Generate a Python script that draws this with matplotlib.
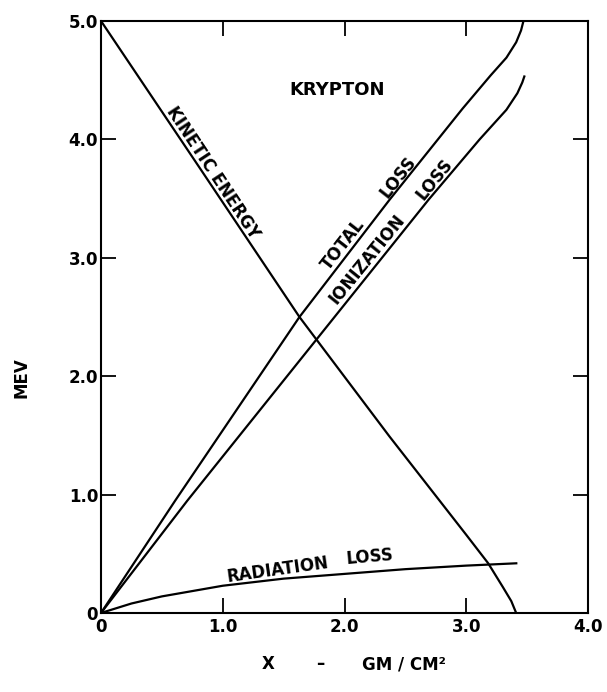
import matplotlib
matplotlib.use('Agg')
import matplotlib.pyplot as plt

# Data (x in gm/cm^2, energies in MeV)
###############################################################################
ke_x = [0.0, 0.81, 1.63, 2.37, 3.00, 3.18, 3.30, 3.37, 3.41]
ke_y = [5.0, 3.76, 2.50, 1.49, 0.66, 0.42, 0.22, 0.10, 0.0]

total_x = [0.0, 0.61, 1.63, 2.37, 2.97, 3.20, 3.33, 3.41, 3.45, 3.47]
total_y = [0.0, 0.95, 2.50, 3.49, 4.26, 4.54, 4.69, 4.82, 4.92, 5.0]

ion_x = [0.0, 0.71, 1.77, 2.69, 3.11, 3.33, 3.42, 3.46, 3.48]
ion_y = [0.0, 0.95, 2.31, 3.49, 4.00, 4.25, 4.39, 4.48, 4.54]

rad_x = [0.0, 0.25, 0.5, 1.0, 1.5, 2.0, 2.5, 3.0, 3.42]
rad_y = [0.0, 0.08, 0.14, 0.23, 0.29, 0.33, 0.37, 0.40, 0.42]

x_ticks = [0, 1, 2, 3, 4]
x_labels = ['0', '1.0', '2.0', '3.0', '4.0']
y_ticks = [0, 1, 2, 3, 4, 5]
y_labels = ['0', '1.0', '2.0', '3.0', '4.0', '5.0']

# Figure
###############################################################################
plt.rcParams['font.family'] = ['DejaVu Sans']
plt.rcParams['font.weight'] = 'bold'

fig = plt.figure(figsize=(6.07, 6.92), dpi=100)
ax = fig.add_axes([0.1664, 0.1142, 0.8023, 0.8555])

lw = 1.6
for xs, ys in [(ke_x, ke_y), (total_x, total_y), (ion_x, ion_y), (rad_x, rad_y)]:
    ax.plot(xs, ys, color='black', lw=lw, solid_capstyle='butt',
            solid_joinstyle='round')

ax.set_xlim(0, 4)
ax.set_ylim(0, 5)
ax.set_xticks(x_ticks)
ax.set_xticklabels(x_labels)
ax.set_yticks(y_ticks)
ax.set_yticklabels(y_labels)
ax.tick_params(direction='in', length=11, width=1.3, top=True, right=True,
               labelsize=12, colors='black')
ax.tick_params(axis='x', pad=3.5)
ax.tick_params(axis='y', pad=2)
for lab in ax.get_xticklabels() + ax.get_yticklabels():
    lab.set_fontweight('bold')
for sp in ax.spines.values():
    sp.set_linewidth(1.5)

# curve labels
txt = dict(ha='center', va='center', rotation_mode='anchor',
           fontsize=12, fontweight='bold')
ax.text(1.94, 4.42, 'KRYPTON', fontsize=13, fontweight='bold',
        ha='center', va='center')
ax.text(0.92, 3.72, 'KINETIC ENERGY', rotation=-56.5, **txt)
ax.text(1.99, 3.11, 'TOTAL', rotation=52, **txt)
ax.text(2.44, 3.68, 'LOSS', rotation=52, **txt)
ax.text(2.19, 2.99, 'IONIZATION', rotation=51, **txt)
ax.text(2.74, 3.66, 'LOSS', rotation=51, **txt)
ax.text(1.45, 0.36, 'RADIATION', rotation=8, **txt)
ax.text(2.21, 0.47, 'LOSS', rotation=5, **txt)

fig.text(0.035, 0.455, 'MEV', rotation=90, ha='center', va='center',
         fontsize=12, fontweight='bold')
fig.text(0.441, 0.04, 'X', ha='center', va='center', fontsize=12,
         fontweight='bold')
fig.text(0.527, 0.04, '\u2013', ha='center', va='center', fontsize=12,
         fontweight='bold')
fig.text(0.666, 0.04, 'GM / CM\u00b2', ha='center', va='center',
         fontsize=12, fontweight='bold')

fig.savefig('out.png', dpi=100)
